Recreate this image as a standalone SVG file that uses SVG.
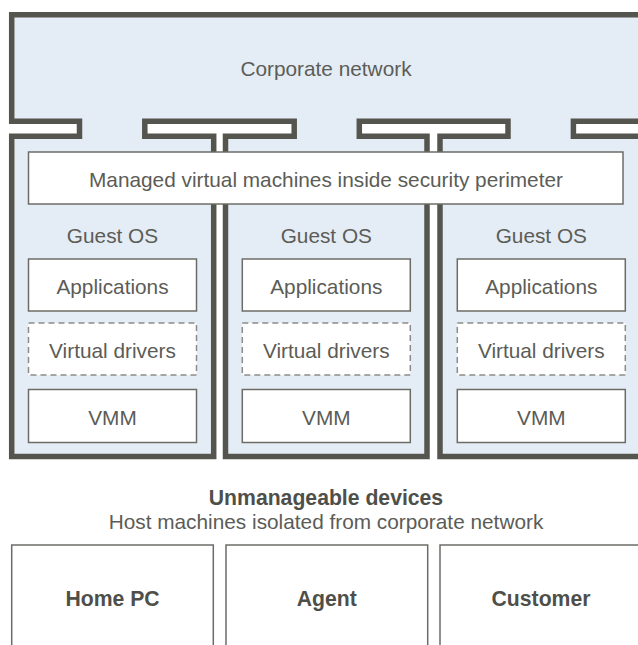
<svg xmlns="http://www.w3.org/2000/svg" width="638" height="645" viewBox="0 0 638 645">
  <style>
    .frame { fill: #e4ecf5; stroke: #55554f; stroke-width: 5.5; stroke-linejoin: miter; }
    .box { fill: #ffffff; stroke: #6c6c67; stroke-width: 1.5; }
    .dashed { fill: #ffffff; stroke: #8c8c87; stroke-width: 1.5; stroke-dasharray: 6 4; }
    .open { fill: #ffffff; stroke: #6c6c67; stroke-width: 1.5; }
    text { font-family: "Liberation Sans", Arial, sans-serif; font-size: 20.8px; fill: #5c5c57; text-anchor: middle; }
    .bold { font-weight: bold; font-size: 21.2px; fill: #4f4f4a; }
  </style>

  <!-- Corporate network outline with three VM columns hanging from it -->
  <g id="corporate-network">
    <path class="frame" d="M 660 14.7 H 11.7 V 121.2 H 79.5 V 136.2 H 11.7 V 456.5 H 213.7 V 136.2 H 144.8 V 121.2 H 294.2 V 136.2 H 225.5 V 456.5 H 427 V 136.2 H 359.3 V 121.2 H 508 V 136.2 H 440 V 456.5 H 650 V 136.2 H 573.4 V 121.2 H 660 Z"/>
    <text x="326" y="76">Corporate network</text>
  </g>

  <g id="managed-vms">
    <rect class="box" x="28.5" y="152" width="594.5" height="52"/>
    <text x="326" y="186.5">Managed virtual machines inside security perimeter</text>
  </g>

  <!-- Guest VM columns -->
  <g id="vm-1">
    <text x="112.5" y="243">Guest OS</text>
    <rect class="box" x="28.5" y="259" width="168" height="52"/>
    <text x="112.5" y="293.5">Applications</text>
    <rect class="dashed" x="28.5" y="323" width="168" height="52"/>
    <text x="112.5" y="357.5">Virtual drivers</text>
    <rect class="box" x="28.5" y="389.5" width="168" height="53"/>
    <text x="112.5" y="424.5">VMM</text>
  </g>

  <g id="vm-2">
    <text x="326.3" y="243">Guest OS</text>
    <rect class="box" x="242.3" y="259" width="168" height="52"/>
    <text x="326.3" y="293.5">Applications</text>
    <rect class="dashed" x="242.3" y="323" width="168" height="52"/>
    <text x="326.3" y="357.5">Virtual drivers</text>
    <rect class="box" x="242.3" y="389.5" width="168" height="53"/>
    <text x="326.3" y="424.5">VMM</text>
  </g>

  <g id="vm-3">
    <text x="541.3" y="243">Guest OS</text>
    <rect class="box" x="457.3" y="259" width="168" height="52"/>
    <text x="541.3" y="293.5">Applications</text>
    <rect class="dashed" x="457.3" y="323" width="168" height="52"/>
    <text x="541.3" y="357.5">Virtual drivers</text>
    <rect class="box" x="457.3" y="389.5" width="168" height="53"/>
    <text x="541.3" y="424.5">VMM</text>
  </g>

  <!-- Host machines outside the perimeter -->
  <g id="unmanageable-devices">
    <text class="bold" x="326" y="505">Unmanageable devices</text>
    <text x="326" y="528.5">Host machines isolated from corporate network</text>
  </g>

  <g id="home-pc">
    <path class="open" d="M 11.7 650 V 545 H 213.3 V 650"/>
    <text class="bold" x="112.5" y="606">Home PC</text>
  </g>

  <g id="agent">
    <path class="open" d="M 226 650 V 545 H 427.7 V 650"/>
    <text class="bold" x="326.8" y="606">Agent</text>
  </g>

  <g id="customer">
    <path class="open" d="M 440 650 V 545 H 660"/>
    <text class="bold" x="541" y="606">Customer</text>
  </g>
</svg>
